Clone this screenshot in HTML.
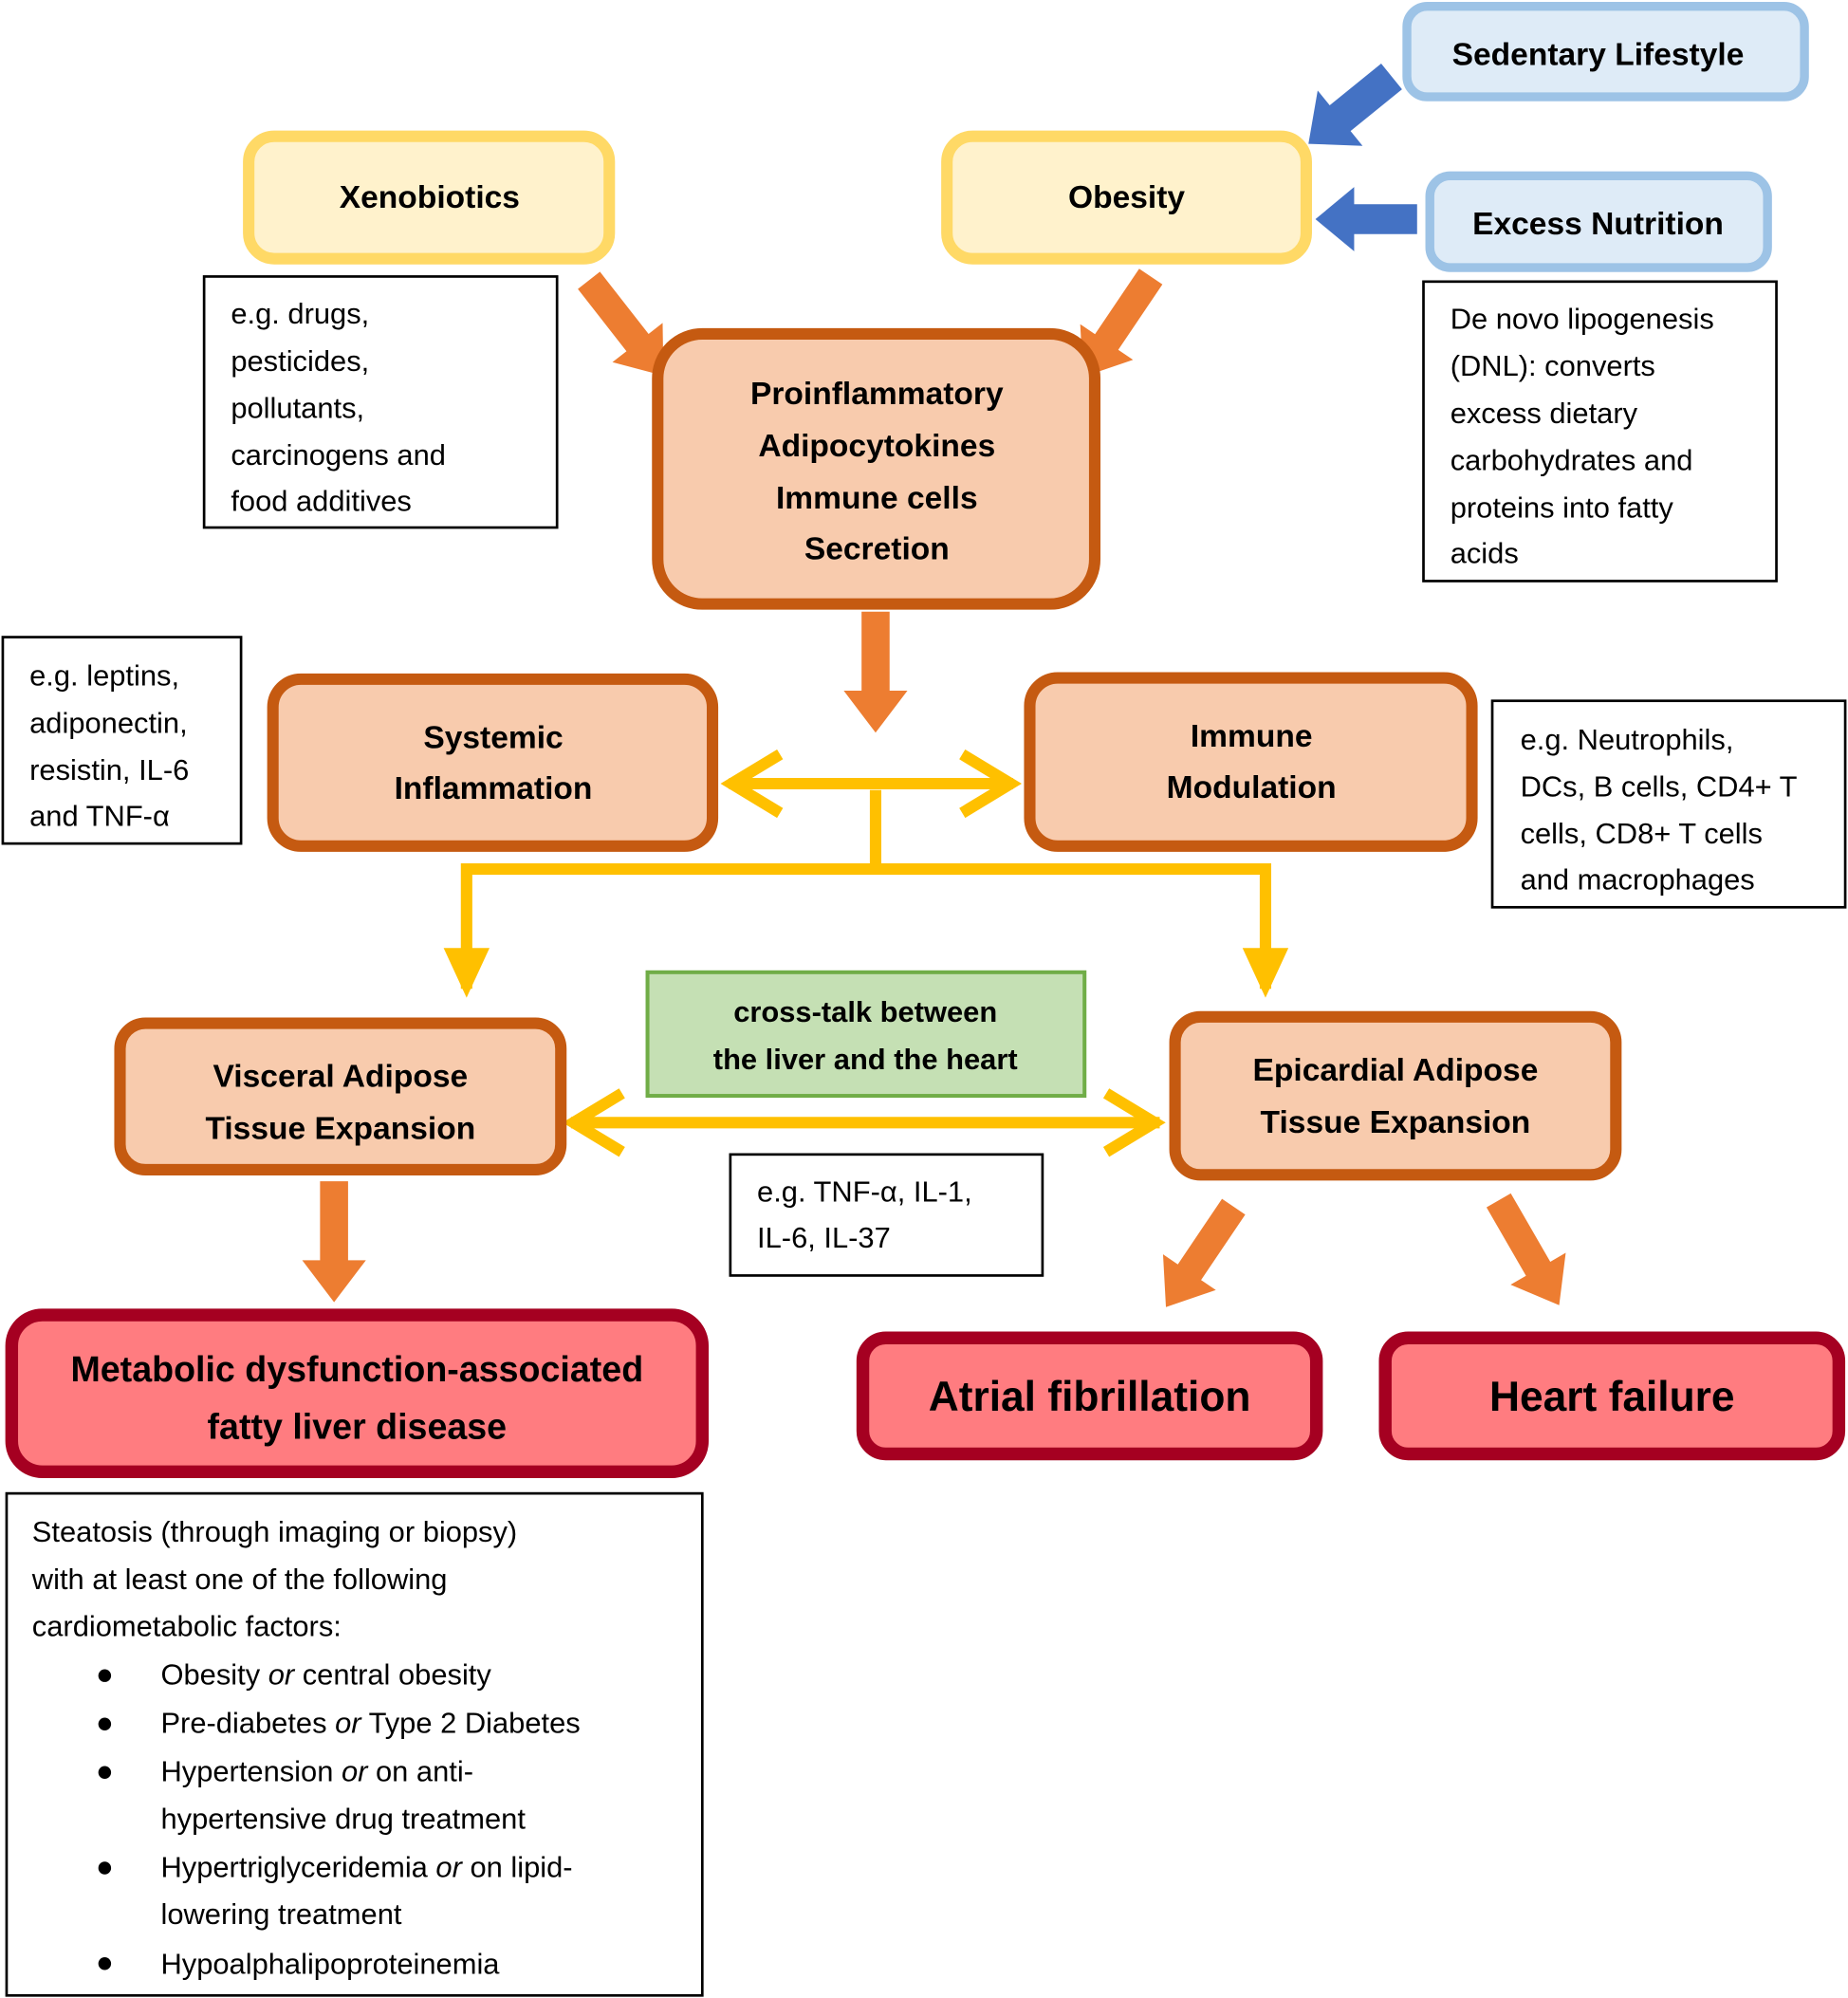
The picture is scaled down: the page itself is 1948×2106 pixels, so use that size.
<!DOCTYPE html>
<html><head><meta charset="utf-8"><style>html,body{margin:0;padding:0;background:#fff}svg{display:block}</style></head>
<body>
<svg width="1948" height="2106" viewBox="0 0 1450 1568" xmlns="http://www.w3.org/2000/svg" font-family="Liberation Sans, sans-serif">
<defs>
<polygon id="ba" points="0,-13 52,-13 52,-28 84,0 52,28 52,13 0,13"/>
<polygon id="oa" points="0,-11 62,-11 62,-25 95,0 62,25 62,11 0,11"/>
</defs>
<rect x="1104" y="5" width="312" height="71" rx="16" fill="#deebf7" stroke="#9dc3e6" stroke-width="7"/>
<text x="1254" y="51" font-size="25" font-weight="bold" text-anchor="middle">Sedentary Lifestyle</text>
<rect x="1122" y="138" width="265" height="72" rx="16" fill="#deebf7" stroke="#9dc3e6" stroke-width="7"/>
<text x="1254" y="184" font-size="25" font-weight="bold" text-anchor="middle">Excess Nutrition</text>
<use href="#ba" fill="#4472c4" transform="translate(1092,60) rotate(141)"/>
<use href="#ba" fill="#4472c4" transform="translate(1112,172) rotate(180) scale(0.95,0.9)"/>
<rect x="195" y="107" width="283" height="96" rx="20" fill="#fff2cc" stroke="#ffd966" stroke-width="9"/>
<text x="337" y="163" font-size="25" font-weight="bold" text-anchor="middle">Xenobiotics</text>
<rect x="743" y="107" width="282" height="96" rx="20" fill="#fff2cc" stroke="#ffd966" stroke-width="9"/>
<text x="884" y="163" font-size="25" font-weight="bold" text-anchor="middle">Obesity</text>
<g font-size="23" fill="#000">
<rect x="160" y="217" width="277" height="197" fill="#fff" stroke="#000" stroke-width="2"/>
<text x="181" y="254">e.g. drugs,</text><text x="181" y="291">pesticides,</text><text x="181" y="328">pollutants,</text><text x="181" y="365">carcinogens and</text><text x="181" y="401">food additives</text>
<rect x="1117" y="221" width="277" height="235" fill="#fff" stroke="#000" stroke-width="2"/>
<text x="1138" y="258">De novo lipogenesis</text><text x="1138" y="295">(DNL): converts</text><text x="1138" y="332">excess dietary</text><text x="1138" y="369">carbohydrates and</text><text x="1138" y="406">proteins into fatty</text><text x="1138" y="442">acids</text>
<rect x="2" y="500" width="187" height="162" fill="#fff" stroke="#000" stroke-width="2"/>
<text x="23" y="538">e.g. leptins,</text><text x="23" y="575">adiponectin,</text><text x="23" y="612">resistin, IL-6</text><text x="23" y="648">and TNF-α</text>
<rect x="1171" y="550" width="277" height="162" fill="#fff" stroke="#000" stroke-width="2"/>
<text x="1193" y="588">e.g. Neutrophils,</text><text x="1193" y="625">DCs, B cells, CD4+ T</text><text x="1193" y="662">cells, CD8+ T cells</text><text x="1193" y="698">and macrophages</text>
<rect x="573" y="906" width="245" height="95" fill="#fff" stroke="#000" stroke-width="2"/>
<text x="594" y="943">e.g. TNF-α, IL-1,</text><text x="594" y="979">IL-6, IL-37</text>
<rect x="5" y="1172" width="546" height="394" fill="#fff" stroke="#000" stroke-width="2"/>
<text x="25" y="1210">Steatosis (through imaging or biopsy)</text>
<text x="25" y="1247">with at least one of the following</text>
<text x="25" y="1284">cardiometabolic factors:</text>
<g><circle cx="82" cy="1315" r="5"/><circle cx="82" cy="1353" r="5"/><circle cx="82" cy="1391" r="5"/><circle cx="82" cy="1466" r="5"/><circle cx="82" cy="1541" r="5"/></g>
<text x="126" y="1322">Obesity <tspan font-style="italic">or</tspan> central obesity</text>
<text x="126" y="1360">Pre-diabetes <tspan font-style="italic">or</tspan> Type 2 Diabetes</text>
<text x="126" y="1398">Hypertension <tspan font-style="italic">or</tspan> on anti-</text>
<text x="126" y="1435">hypertensive drug treatment</text>
<text x="126" y="1473">Hypertriglyceridemia <tspan font-style="italic">or</tspan> on lipid-</text>
<text x="126" y="1510">lowering treatment</text>
<text x="126" y="1549">Hypoalphalipoproteinemia</text>
</g>
<use href="#oa" fill="#ed7d31" transform="translate(462,220) rotate(52)"/>
<use href="#oa" fill="#ed7d31" transform="translate(903,217) rotate(124)"/>
<use href="#oa" fill="#ed7d31" transform="translate(687,480) rotate(90)"/>
<use href="#oa" fill="#ed7d31" transform="translate(262,927) rotate(90)"/>
<use href="#oa" fill="#ed7d31" transform="translate(968,947) rotate(124)"/>
<use href="#oa" fill="#ed7d31" transform="translate(1176,942) rotate(60)"/>
<rect x="516" y="262" width="343" height="212" rx="35" fill="#f8cbad" stroke="#c55a11" stroke-width="9"/>
<g font-size="25" font-weight="bold" text-anchor="middle">
<text x="688" y="317">Proinflammatory</text><text x="688" y="358">Adipocytokines</text><text x="688" y="399">Immune cells</text><text x="688" y="439">Secretion</text>
</g>
<rect x="214" y="533" width="345" height="131" rx="22" fill="#f8cbad" stroke="#c55a11" stroke-width="9"/>
<text x="387" y="587" font-size="25" font-weight="bold" text-anchor="middle">Systemic</text>
<text x="387" y="627" font-size="25" font-weight="bold" text-anchor="middle">Inflammation</text>
<rect x="808" y="532" width="347" height="132" rx="22" fill="#f8cbad" stroke="#c55a11" stroke-width="9"/>
<text x="982" y="586" font-size="25" font-weight="bold" text-anchor="middle">Immune</text>
<text x="982" y="626" font-size="25" font-weight="bold" text-anchor="middle">Modulation</text>
<g stroke="#ffc000" stroke-width="9" fill="none" stroke-linejoin="miter">
<line x1="572" y1="615" x2="795" y2="615"/>
<polyline points="612,592 574,615 612,638"/>
<polyline points="755,592 793,615 755,638"/>
<line x1="687" y1="620" x2="687" y2="682"/>
<polyline points="366,776 366,682 993,682 993,776"/>
<line x1="448" y1="881" x2="910" y2="881"/>
<polyline points="488,858 450,881 488,904"/>
<polyline points="868,858 906,881 868,904"/>
</g>
<polygon points="348,744 384,744 366,783" fill="#ffc000"/>
<polygon points="975,744 1011,744 993,783" fill="#ffc000"/>
<rect x="508" y="763" width="343" height="97" fill="#c5e0b4" stroke="#70ad47" stroke-width="3"/>
<text x="679" y="802" font-size="23" font-weight="bold" text-anchor="middle">cross-talk between</text>
<text x="679" y="839" font-size="23" font-weight="bold" text-anchor="middle">the liver and the heart</text>
<rect x="94" y="803" width="346" height="115" rx="20" fill="#f8cbad" stroke="#c55a11" stroke-width="9"/>
<text x="267" y="853" font-size="25" font-weight="bold" text-anchor="middle">Visceral Adipose</text>
<text x="267" y="894" font-size="25" font-weight="bold" text-anchor="middle">Tissue Expansion</text>
<rect x="922" y="798" width="346" height="124" rx="20" fill="#f8cbad" stroke="#c55a11" stroke-width="9"/>
<text x="1095" y="848" font-size="25" font-weight="bold" text-anchor="middle">Epicardial Adipose</text>
<text x="1095" y="889" font-size="25" font-weight="bold" text-anchor="middle">Tissue Expansion</text>
<rect x="9" y="1032" width="542" height="123" rx="24" fill="#ff7c80" stroke="#a50021" stroke-width="10"/>
<text x="280" y="1084" font-size="28" font-weight="bold" text-anchor="middle">Metabolic dysfunction-associated</text>
<text x="280" y="1129" font-size="28" font-weight="bold" text-anchor="middle">fatty liver disease</text>
<rect x="677" y="1050" width="356" height="91" rx="18" fill="#ff7c80" stroke="#a50021" stroke-width="10"/>
<text x="855" y="1107" font-size="33" font-weight="bold" text-anchor="middle">Atrial fibrillation</text>
<rect x="1087" y="1050" width="356" height="91" rx="18" fill="#ff7c80" stroke="#a50021" stroke-width="10"/>
<text x="1265" y="1107" font-size="33" font-weight="bold" text-anchor="middle">Heart failure</text>
</svg>
</body></html>
